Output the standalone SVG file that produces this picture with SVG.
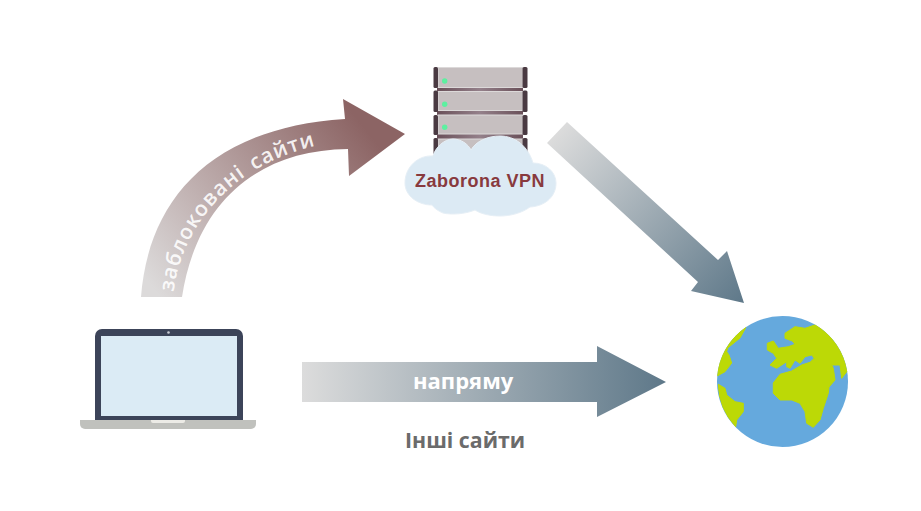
<svg xmlns="http://www.w3.org/2000/svg" width="921" height="511" viewBox="0 0 921 511">
<style>
.post{fill:#4a3a42}
.unit{fill:#c6bfc0;stroke:#dcd9d9;stroke-width:1}
.bar{fill:url(#gb)}
.led{fill:#5df0a0}
.land{fill:#bcd906;stroke:#bcd906;stroke-width:1;stroke-linejoin:round}
text{font-family:"Open Sans","Noto Sans",sans-serif;font-weight:700}
</style>
<defs>
<linearGradient id="gb"><stop offset="0" stop-color="#6a5059"/><stop offset="0.5" stop-color="#94808a"/><stop offset="1" stop-color="#6a5059"/></linearGradient>
<linearGradient id="gs" gradientUnits="userSpaceOnUse" x1="302" y1="381" x2="666" y2="381"><stop offset="0" stop-color="#dcdcdc"/><stop offset="1" stop-color="#5e7889"/></linearGradient>
<linearGradient id="gd" gradientUnits="userSpaceOnUse" x1="557" y1="132" x2="744" y2="303"><stop offset="0" stop-color="#dcdcdc"/><stop offset="1" stop-color="#5e7889"/></linearGradient>
<linearGradient id="gc" gradientUnits="userSpaceOnUse" x1="160" y1="297" x2="380" y2="125"><stop offset="0" stop-color="#dcdada"/><stop offset="0.95" stop-color="#8c6464"/></linearGradient>
<path id="arc" d="M173 297C180 225 235 155 345 140"/>
</defs>
<rect width="921" height="511" fill="#fff"/>
<g id="connectors">
<path id="arrow-blocked" fill="url(#gc)" d="M141 297C148 205 205 128 345 119L343 99L405 134L349 176L348 149C255 150 196 205 182 297Z"/>
<path id="arrow-vpn-web" fill="url(#gd)" d="M547 143L567 122L718 260L727 251L744 303L691 291L698 282Z"/>
<path id="arrow-direct" fill="url(#gs)" d="M302 362H597V346L666 382L597 417V402H302Z"/>
<text font-size="21" fill="#fff" fill-opacity="0.9" letter-spacing="1" word-spacing="3" style="font-weight:600"><textPath href="#arc" startOffset="5">заблоковані сайти</textPath></text>
<text x="413" y="389" font-size="22" fill="#fff">напряму</text>
<text x="405" y="448" font-size="21.300" fill="#6b6b6b">Інші сайти</text>
</g>
<g id="server">
<rect class="bar" x="437" y="87" width="86" height="4.500"/>
<rect class="bar" x="437" y="110" width="86" height="5"/>
<rect class="bar" x="437" y="134" width="86" height="5"/>
<rect class="unit" x="438" y="67.500" width="84.500" height="20"/>
<rect class="unit" x="438" y="91.500" width="84.500" height="19"/>
<rect class="unit" x="438" y="115" width="84.500" height="19"/>
<rect class="unit" x="438" y="139" width="84.500" height="20"/>
<rect class="post" x="433.500" y="67" width="4.500" height="21" rx="1.500"/>
<rect class="post" x="433.500" y="90.500" width="4.500" height="21.500" rx="1.500"/>
<rect class="post" x="433.500" y="115" width="4.500" height="20" rx="1.500"/>
<rect class="post" x="433.500" y="138" width="4.500" height="20" rx="1.500"/>
<rect class="post" x="522.500" y="67" width="5" height="21" rx="1.500"/>
<rect class="post" x="522.500" y="90.500" width="5" height="21.500" rx="1.500"/>
<rect class="post" x="522.500" y="115" width="5" height="20" rx="1.500"/>
<rect class="post" x="522.500" y="138" width="5" height="20" rx="1.500"/>
<circle class="led" cx="444.700" cy="81" r="2.700"/>
<circle class="led" cx="444.700" cy="104.300" r="2.700"/>
<circle class="led" cx="444.700" cy="127.300" r="2.700"/>
</g>
<g id="cloud">
<path fill="#dceaf4" stroke="#e6eff6" d="M433 156C435 148 444 139 453 139C461 139 468 144 471 150C476 141 488 136 500 136C515 136 528 146 533 163C546 163 556 172 556 183C556 196 546 206 530 207C522 213 510 216 500 216C491 216 481 214 475 210C465 214 452 215 443 213C438 211 434 208 432 205C418 205 405 196 405 183C405 167 418 155 433 156Z"/>
<text x="415" y="187" font-size="18" letter-spacing="0.500" fill="#883a3e" style="font-family:'Liberation Sans',Arial,sans-serif">Zaborona VPN</text>
</g>
<g id="laptop">
<path fill="#3c4459" d="M95 420V336a7 7 0 0 1 7-7H236a7 7 0 0 1 7 7V420Z"/>
<rect x="101" y="336" width="136" height="80" fill="#dbebf5"/>
<circle cx="168.500" cy="332.500" r="1.300" fill="#c8cdd4"/>
<path fill="#c0c1bd" d="M80 420H256V424a5 5 0 0 1-5 5H85a5 5 0 0 1-5-5Z"/>
<path fill="#ecebe6" d="M151 420H185V421a2 2 0 0 1-2 2H153a2 2 0 0 1-2-2Z"/>
</g>
<g id="globe">
<circle cx="782.500" cy="381.500" r="65.500" fill="#65a9dd"/>
<path class="land" d="M745.700 327.700L740 338L735 342L727.700 348L726.700 351.700L729 355L731.700 363L725 371.700L717.700 375.700A65.500 65.500 0 0 1 745.700 327.700Z"/>
<path class="land" d="M718.300 384.300L725 388.300L726.700 395L735 401.700L743.300 403.300L743.300 411.700L736.700 420L735.700 426.700A65.500 65.500 0 0 1 718.300 384.300Z"/>
<path class="land" d="M815 325L805 328.300L795 326.700L785 333.300L785 338.300L792.300 341L795 344.300L788.300 346.700L778.300 348.300L773.300 341L767.300 343.300L767.300 350L773.300 353.300L776.700 358.300L770 365L776.700 368.300L786.700 361.700L786.700 366.700L790 368.300L795 360L800 363.300L805 356.700L811.700 355L814.300 358.300L810 362.300L801.700 365L791.700 371L780 374.300L773.300 383L773.300 393.300L780 400L791.700 400L800 403.300L805 411.700L806.700 423.300L813.300 427.300L820 420L823.300 408.300L828.300 393.300L829 387L835 380L833.300 368.300L831.700 365L840 365L841.700 378.300L846.700 371.700A65.500 65.500 0 0 0 815 325Z"/>
</g>
</svg>
